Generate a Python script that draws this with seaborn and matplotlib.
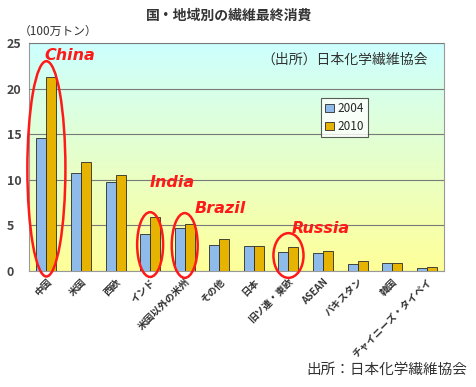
import numpy as np
import pandas as pd
import seaborn as sns
import matplotlib.pyplot as plt
from matplotlib.patches import Ellipse

regions = ['中国', '米国', '西欧', 'インド', '米国以外の米州', 'その他', '日本',
           '旧ソ連・東欧', 'ASEAN', 'パキスタン', '韓国', 'チャイニーズ・タイペイ']
v2004 = [14.6, 10.7, 9.8, 4.1, 4.7, 2.9, 2.7, 2.1, 1.95, 0.8, 0.9, 0.3]
v2010 = [21.3, 11.9, 10.5, 5.9, 5.2, 3.5, 2.7, 2.6, 2.2, 1.1, 0.9, 0.4]
years = ['2004', '2010']

# highlighted countries: (category index, label, ellipse center y, ellipse height, width, label x, label y)
highlights = [
    (0, 'China', 11.2, 23.6, 1.1, 0.68, 23.6),
    (3, 'India', 2.9, 7.1, 0.75, 3.63, 9.7),
    (4, 'Brazil', 2.8, 7.1, 0.75, 5.02, 6.9),
    (7, 'Russia', 1.7, 4.9, 0.87, 7.94, 4.7),
]

df = pd.DataFrame({
    'region': regions * 2,
    'year': [years[0]] * len(regions) + [years[1]] * len(regions),
    'value': v2004 + v2010,
})

sns.set_style('white')
plt.rcParams['font.family'] = ['Noto Sans CJK JP', 'DejaVu Sans']

fig = plt.figure(figsize=(4.77, 3.87), dpi=100)
ax = fig.add_axes([0.061, 0.2997, 0.87, 0.5893])

# gradient background (cyan -> pale yellow)
top = np.array([0.80, 1.0, 1.0])
bot = np.array([1.0, 1.0, 0.60])
t = np.linspace(0, 1, 256)[:, None]
grad = (top * (1 - t) + bot * t)[:, None, :]
ax.imshow(grad, extent=[-0.5, len(regions) - 0.5, 0, 25], aspect='auto', zorder=0)

sns.barplot(data=df, x='region', y='value', hue='year', ax=ax,
            palette={'2004': '#8fbbea', '2010': '#e6b400'}, saturation=1,
            width=0.58, edgecolor='#2b2b2b', linewidth=0.6, zorder=3)

ax.set_xlim(-0.5, len(regions) - 0.5)
ax.set_ylim(0, 25)
ax.set_yticks([0, 5, 10, 15, 20, 25])
ax.yaxis.grid(True, color='#7a7a7a', linewidth=0.8, zorder=1)
ax.set_axisbelow(False)
ax.set_xlabel('')
ax.set_ylabel('')
for s in ax.spines.values():
    s.set_color('#999999')
    s.set_linewidth(0.8)
ax.tick_params(axis='y', labelsize=9, labelcolor='#444444', length=0, pad=16)
ax.tick_params(axis='x', labelsize=7, labelcolor='#333333', length=0, pad=4)
plt.setp(ax.get_xticklabels(), rotation=45, ha='right', rotation_mode='anchor',
         fontweight='bold')
for lab in ax.get_yticklabels():
    lab.set_horizontalalignment('left')
    lab.set_fontweight('bold')

leg = ax.legend(loc='upper left', bbox_to_anchor=(0.69, 0.785), fontsize=8.5,
                frameon=True, fancybox=False, edgecolor='#333333',
                handlelength=0.7, handleheight=0.7, handletextpad=0.3,
                borderpad=0.35, labelspacing=0.45)
leg.get_frame().set_linewidth(0.8)

# red circles and country names
for idx, name, cy, h, w, lx, ly in highlights:
    ax.add_patch(Ellipse((idx, cy), w, h, fill=False, edgecolor='#ff1a1a',
                         linewidth=1.8, clip_on=False, zorder=5))
    ax.text(lx, ly, name, color='#ff1a1a', fontsize=11.5, fontweight='bold',
            fontstyle='italic', family='DejaVu Sans', ha='center', va='center', zorder=6)

ax.text(0.76, 0.925, '（出所）日本化学繊維協会', transform=ax.transAxes,
        fontsize=10, color='#333333', ha='center', va='center')

fig.text(0.48, 0.958, '国・地域別の繊維最終消費', fontsize=10, color='#333333',
         ha='center', va='center', fontweight='bold')
fig.text(0.04, 0.92, '（100万トン）', fontsize=8.5, color='#333333', ha='left', va='center')
fig.text(0.98, 0.044, '出所：日本化学繊維協会', fontsize=10.5, color='#333333',
         ha='right', va='center')

fig.savefig('out.png', dpi=100)
